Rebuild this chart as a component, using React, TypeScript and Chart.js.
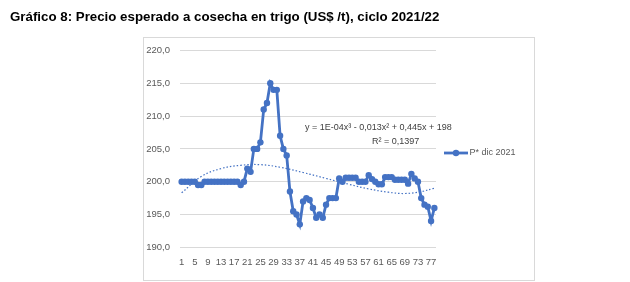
import React, { useEffect, useRef } from "react";
import { Chart, registerables } from "chart.js";

Chart.register(...registerables);

const categories: string[] = Array.from({ length: 78 }, (_, i) => String(i + 1));

const price: number[] = [
  200, 200, 200, 200, 200, 199.5, 199.5, 200, 200, 200,
  200, 200, 200, 200, 200, 200, 200, 200, 199.5, 200,
  202, 201.5, 205, 205, 206, 211, 212, 215, 214, 214,
  207, 205, 204, 198.5, 195.5, 195, 193.5, 197, 197.5, 197.2,
  196, 194.5, 195, 194.5, 196.5, 197.5, 197.5, 197.5, 200.5, 200,
  200.6, 200.6, 200.6, 200.6, 200, 200, 200, 201, 200.4, 200,
  199.6, 199.6, 200.7, 200.7, 200.7, 200.3, 200.3, 200.3, 200.3, 199.7,
  201.2, 200.5, 200, 197.5, 196.5, 196.2, 194, 196,
];

// Trendline at a few categories (1-based)
const trendAt: number[] = [1, 7, 13, 19, 25, 31, 38, 45, 52, 58, 64, 69, 74, 78];
const trendValues: number[] = [198.3, 200.8, 202.0, 202.5, 202.6, 202.2, 201.4, 200.5, 199.6, 198.9, 198.4, 198.2, 198.5, 199.0];

const yTicks = { min: 190, max: 220, step: 5 };

const titleText = "Gráfico 8: Precio esperado a cosecha en trigo (US$ /t), ciclo 2021/22";
const equationText = "y = 1E-04x³ - 0,013x² + 0,445x + 198";
const r2Text = "R² = 0,1397";
const seriesName = "P* dic 2021";

const BLUE = "#4472C4";
const FONT = "'Liberation Sans', Arial, sans-serif";
const TICK_FONT = "'Liberation Sans Narrow', 'Liberation Sans', Arial, sans-serif";

export default function App() {
  const ref = useRef<HTMLCanvasElement | null>(null);

  useEffect(() => {
    if (!ref.current) return;
    const trend: (number | null)[] = categories.map(() => null);
    trendAt.forEach((c, i) => {
      trend[c - 1] = trendValues[i];
    });

    const deco = {
      id: "deco",
      beforeDraw(chart: any) {
        const ctx = chart.ctx;
        ctx.save();
        ctx.fillStyle = "#ffffff";
        ctx.fillRect(0, 0, chart.width, chart.height);
        ctx.strokeStyle = "#d9d9d9";
        ctx.lineWidth = 1;
        ctx.strokeRect(143.5, 37.5, 391, 243);
        ctx.restore();
      },
      afterDraw(chart: any) {
        const ctx = chart.ctx;
        ctx.save();
        ctx.fillStyle = "#000000";
        ctx.font = `bold 13.3px ${FONT}`;
        ctx.textBaseline = "alphabetic";
        ctx.textAlign = "left";
        ctx.fillText(titleText, 10, 21);

        ctx.fillStyle = "#404040";
        ctx.font = `9px ${FONT}`;
        ctx.textBaseline = "middle";
        ctx.textAlign = "left";
        ctx.fillText(equationText, 305, 127.5);
        ctx.fillText(r2Text, 372, 142);

        // legend
        ctx.strokeStyle = BLUE;
        ctx.lineWidth = 2.8;
        ctx.beginPath();
        ctx.moveTo(444, 153);
        ctx.lineTo(468, 153);
        ctx.stroke();
        ctx.fillStyle = BLUE;
        ctx.beginPath();
        ctx.arc(456, 153, 3.2, 0, Math.PI * 2);
        ctx.fill();
        ctx.fillStyle = "#595959";
        ctx.fillText(seriesName, 469.5, 153);
        ctx.restore();
      },
    };

    const chart = new Chart(ref.current, {
      type: "line",
      data: {
        labels: categories,
        datasets: [
          {
            label: seriesName,
            data: price,
            borderColor: BLUE,
            backgroundColor: BLUE,
            borderWidth: 2.8,
            pointRadius: 3.2,
            pointBorderWidth: 0,
            pointBackgroundColor: BLUE,
            tension: 0,
            order: 1,
          },
          {
            label: "trend",
            data: trend,
            borderColor: BLUE,
            borderWidth: 1.2,
            borderDash: [1.5, 2],
            pointRadius: 0,
            spanGaps: true,
            tension: 0.4,
            order: 2,
          },
        ],
      },
      options: {
        animation: false,
        responsive: false,
        devicePixelRatio: 1,
        layout: { padding: { left: 140, right: 194, top: 50.5, bottom: 14.7 } },
        plugins: {
          legend: { display: false },
          tooltip: { enabled: false },
          title: { display: false },
        },
        scales: {
          x: {
            offset: true,
            grid: { display: false, drawTicks: false },
            border: { display: false },
            afterFit: (s: any) => {
              s.height = 20;
            },
            ticks: {
              autoSkip: false,
              maxRotation: 0,
              minRotation: 0,
              padding: 9,
              color: "#595959",
              font: { family: TICK_FONT, size: 9.5 },
              callback: (_v: any, i: number) => (i % 4 === 0 ? categories[i] : null),
            },
          },
          y: {
            min: yTicks.min,
            max: yTicks.max,
            grid: { color: "#d9d9d9", drawTicks: false, lineWidth: 1 },
            border: { display: false },
            afterFit: (s: any) => {
              s.width = 40;
            },
            ticks: {
              stepSize: yTicks.step,
              padding: 10,
              color: "#595959",
              font: { family: TICK_FONT, size: 9.5 },
              callback: (v: any) => Number(v).toFixed(1).replace(".", ","),
            },
          },
        },
      },
      plugins: [deco],
    });
    return () => chart.destroy();
  }, []);

  return (
    <div style={{ position: "absolute", left: 0, top: 0, width: 630, height: 282 }}>
      <canvas ref={ref} width={630} height={282} style={{ width: 630, height: 282, display: "block" }} />
    </div>
  );
}
